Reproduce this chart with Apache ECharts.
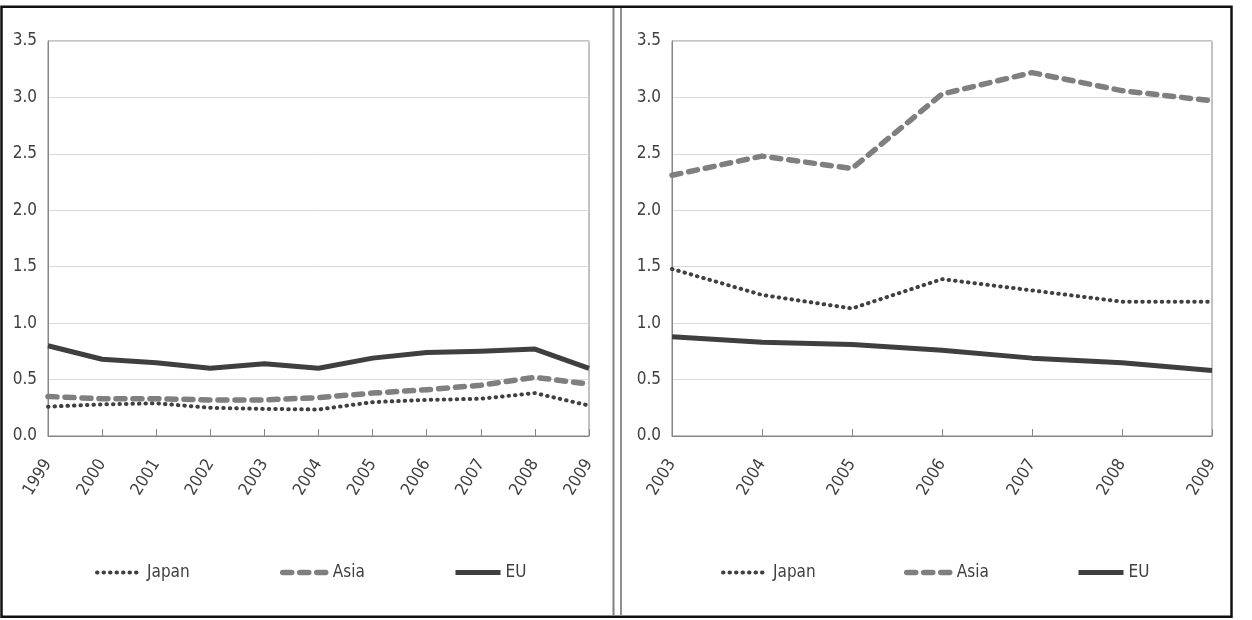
<!DOCTYPE html>
<html>
<head>
<meta charset="utf-8">
<script src="https://cdn.jsdelivr.net/npm/echarts@6/dist/echarts.min.js"></script>
<style>
html,body{margin:0;padding:0;background:#fff;}
#c{width:1252px;height:620px;}
</style>
</head>
<body>
<div id="c"></div>
<script>
// ---- data ----
var yearsA = ['1999','2000','2001','2002','2003','2004','2005','2006','2007','2008','2009'];
var japanA = [0.26,0.28,0.29,0.25,0.24,0.235,0.30,0.32,0.33,0.38,0.27];
var asiaA  = [0.35,0.33,0.33,0.32,0.32,0.34,0.38,0.41,0.45,0.52,0.46];
var euA    = [0.80,0.68,0.65,0.60,0.64,0.60,0.69,0.74,0.75,0.77,0.60];

var yearsB = ['2003','2004','2005','2006','2007','2008','2009'];
var japanB = [1.48,1.25,1.13,1.39,1.29,1.19,1.19];
var asiaB  = [2.31,2.48,2.37,3.03,3.22,3.06,2.97];
var euB    = [0.88,0.83,0.81,0.76,0.69,0.65,0.58];

var seriesNames = ['Japan','Asia','EU'];
var yMin = 0, yMax = 3.5, yStep = 0.5;

// ---- styles ----
var FONT = "'DejaVu Sans Condensed','Liberation Sans Narrow',sans-serif";
var TXT = '#404040';
var styles = {
  Japan: {color:'#404040', width:4, type:[0.5,6], cap:'round'},
  Asia:  {color:'#7f7f7f', width:5.5, type:[9,8], cap:'round'},
  EU:    {color:'#3f3f3f', width:5, type:'solid', cap:'butt'}
};

function mkX(idx, data){
  return {
    type:'category', gridIndex:idx, data:data, boundaryGap:false,
    axisLine:{show:true, lineStyle:{color:'#868686', width:1}},
    axisTick:{show:true, inside:true, length:7, alignWithLabel:true, lineStyle:{color:'#868686'}},
    axisLabel:{rotate:58, margin:25, color:TXT, fontFamily:FONT, fontSize:17, interval:0},
    splitLine:{show:false}
  };
}
function mkY(idx){
  return {
    type:'value', gridIndex:idx, min:yMin, max:yMax, interval:yStep,
    axisLine:{show:true, lineStyle:{color:'#868686', width:1}},
    axisTick:{show:false},
    axisLabel:{margin:11, color:TXT, fontFamily:FONT, fontSize:17,
      formatter:function(v){return v.toFixed(1);}},
    splitLine:{show:true, lineStyle:{color:'#d9d9d9', width:1}}
  };
}
function mkS(name, data, idx){
  var s = styles[name];
  return {
    name:name, type:'line', xAxisIndex:idx, yAxisIndex:idx, data:data,
    symbol:'none', showSymbol:false, smooth:false, animation:false,
    lineStyle:{color:s.color, width:s.width, type:s.type, cap:s.cap, join:'round'},
    itemStyle:{color:s.color}
  };
}
function mkL(name, left){
  var s = styles[name];
  return {
    data:[name], left:left, top:559, itemWidth:45, itemHeight:14,
    itemStyle:{opacity:0},
    lineStyle:{color:s.color, width:s.width, type:s.type, cap:s.cap},
    textStyle:{color:TXT, fontFamily:FONT, fontSize:17},
    selectedMode:false
  };
}

var option = {
  backgroundColor:'#fff',
  animation:false,
  grid:[
    {left:48, right:663, top:41, bottom:184, show:true, borderColor:'#868686', borderWidth:1, containLabel:false},
    {left:672, right:40, top:41, bottom:184, show:true, borderColor:'#868686', borderWidth:1, containLabel:false}
  ],
  xAxis:[mkX(0, yearsA), mkX(1, yearsB)],
  yAxis:[mkY(0), mkY(1)],
  legend:[
    mkL('Japan', 90), mkL('Asia', 275), mkL('EU', 448),
    mkL('Japan', 716), mkL('Asia', 899), mkL('EU', 1071)
  ],
  series:[
    mkS('Japan', japanA, 0), mkS('Asia', asiaA, 0), mkS('EU', euA, 0),
    mkS('Japan', japanB, 1), mkS('Asia', asiaB, 1), mkS('EU', euB, 1)
  ],
  graphic:[
    {type:'rect', shape:{x:1.5, y:6.8, width:1230, height:610}, style:{fill:null, stroke:'#111', lineWidth:2.5}, silent:true},
    {type:'line', shape:{x1:613.5, y1:8, x2:613.5, y2:616}, style:{stroke:'#808080', lineWidth:2}, silent:true},
    {type:'line', shape:{x1:621, y1:8, x2:621, y2:616}, style:{stroke:'#909090', lineWidth:2}, silent:true}
  ]
};

var chart = echarts.init(document.getElementById('c'), null, {renderer:'canvas'});
chart.setOption(option);
</script>
</body>
</html>
